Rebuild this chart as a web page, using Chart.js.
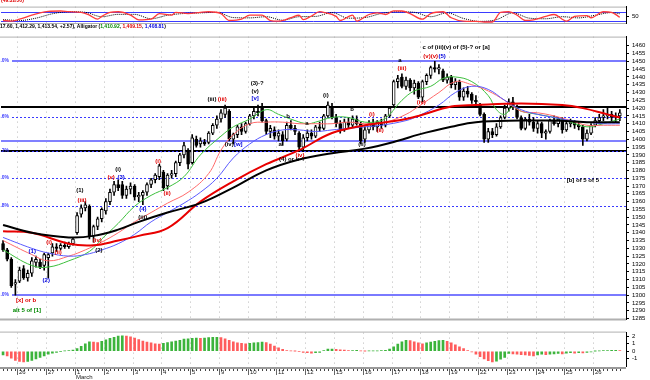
<!DOCTYPE html>
<html><head><meta charset="utf-8">
<script src="https://cdn.jsdelivr.net/npm/chart.js@4.4.1/dist/chart.umd.min.js"></script>
<style>
html,body{margin:0;padding:0;background:#fff;width:650px;height:380px;overflow:hidden;}
body{position:relative;}
canvas{position:absolute;left:0;}
</style></head><body>
<canvas id="stoch" width="650" height="30" style="top:0px"></canvas>
<canvas id="main" width="650" height="296" style="top:30px"></canvas>
<canvas id="ao" width="650" height="54" style="top:326px"></canvas>
<script>
// ---------- DATA ----------
const barOpen = [1333,1329,1323,1307,1309,1317,1311,1314,1321,1321,
 1319,1324,1327,1331,1330,1332,1331,1333,1340,1352,
 1356,1357,1338,1344,1349,1354,1360,1366,1371,1371,
 1364,1368,1370,1363,1364,1366,1371,1374,1376,1379,
 1370,1377,1378,1385,1390,1393,1385,1400,1397,1398,
 1398,1404,1409,1413,1416,1418,1400,1403,1408,1405,
 1410,1415,1418,1421,1412,1405,1406,1402,1403,1400,
 1409,1407,1404,1395,1401,1404,1402,1408,1407,1415,
 1421,1414,1410,1406,1411,1409,1413,1410,1400,1406,
 1410,1408,1410,1409,1415,1422,1437,1440,1434,1438,
 1433,1436,1427,1437,1441,1446,1445,1444,1438,1440,
 1435,1437,1427,1431,1429,1425,1422,1416,1400,1405,
 1403,1408,1414,1420,1424,1421,1414,1407,1413,1411,
 1407,1410,1404,1405,1412,1410,1413,1406,1410,1411,
 1409,1408,1400,1404,1409,1412,1414,1415,1416,1414,
 1415];
const barHigh = [1335,1330,1324,1310,1318,1319,1316,1324,1325,1323,
 1327,1327,1333,1333,1333,1334,1334,1337,1353,1358,
 1360,1358,1345,1350,1356,1362,1368,1373,1374,1373,
 1370,1372,1371,1366,1367,1372,1375,1378,1384,1380,
 1378,1380,1386,1391,1398,1394,1403,1402,1401,1400,
 1405,1410,1415,1419,1422,1419,1404,1409,1410,1411,
 1416,1420,1422,1423,1413,1409,1408,1406,1405,1411,
 1412,1409,1405,1403,1406,1406,1409,1411,1416,1424,
 1423,1416,1412,1413,1414,1415,1415,1411,1408,1412,
 1413,1412,1413,1416,1421,1438,1441,1442,1440,1439,
 1438,1437,1438,1442,1447,1450,1448,1445,1442,1441,
 1439,1438,1433,1434,1430,1428,1423,1417,1407,1407,
 1410,1415,1422,1426,1427,1422,1415,1414,1416,1414,
 1412,1411,1406,1413,1415,1414,1414,1412,1413,1412,
 1411,1409,1406,1410,1414,1416,1419,1421,1418,1417,
 1419];
const barLow = [1328,1322,1305,1300,1308,1310,1309,1312,1318,1317,
 1316,1311,1325,1328,1329,1330,1330,1332,1339,1350,
 1354,1336,1334,1342,1347,1352,1358,1364,1367,1362,
 1362,1365,1361,1360,1358,1364,1369,1372,1374,1367,
 1368,1375,1376,1383,1388,1381,1384,1395,1395,1396,
 1397,1403,1407,1411,1414,1399,1397,1401,1403,1404,
 1409,1413,1415,1411,1403,1401,1400,1399,1396,1399,
 1406,1403,1392,1393,1399,1400,1401,1405,1406,1414,
 1413,1408,1404,1405,1407,1408,1409,1397,1398,1404,
 1406,1405,1407,1408,1414,1421,1433,1433,1432,1431,
 1429,1426,1424,1435,1439,1443,1442,1437,1436,1433,
 1432,1425,1425,1427,1423,1422,1415,1398,1398,1401,
 1402,1407,1413,1418,1419,1413,1406,1406,1409,1405,
 1404,1401,1400,1404,1409,1408,1404,1405,1408,1407,
 1406,1396,1399,1403,1408,1410,1412,1413,1412,1411,
 1412];
const barClose = [1329,1323,1306,1308,1316,1311,1314,1322,1323,1318,
 1326,1326,1331,1330,1332,1331,1333,1336,1351,1356,
 1358,1338,1344,1349,1355,1360,1366,1371,1369,1364,
 1368,1370,1363,1364,1366,1371,1374,1377,1383,1369,
 1377,1378,1385,1390,1396,1384,1401,1396,1399,1397,
 1404,1409,1413,1417,1420,1400,1403,1408,1405,1410,
 1415,1418,1417,1412,1405,1407,1402,1404,1399,1409,
 1407,1405,1395,1401,1404,1402,1408,1407,1415,1422,
 1414,1410,1406,1411,1409,1413,1410,1399,1406,1410,
 1408,1411,1409,1415,1420,1437,1439,1434,1438,1433,
 1436,1427,1437,1441,1446,1445,1446,1438,1440,1435,
 1437,1427,1431,1429,1425,1424,1416,1400,1405,1403,
 1408,1414,1420,1424,1421,1414,1407,1413,1411,1407,
 1410,1404,1405,1412,1410,1413,1406,1410,1411,1409,
 1408,1400,1404,1409,1412,1414,1415,1416,1414,1415,
 1417];

// moving averages / alligator: [bar index, value]
const lipsGreen = [[0,1329],[7,1319],[11,1318],[16,1322],[21,1328],[24,1336],[28,1346],[32,1357],[36,1364],[40,1369],[44,1376],[48,1390],[53,1402],[56,1408],[60,1413],[64,1419],[67,1416],[71,1412],[74,1410],[76,1411],[80,1414],[84,1414],[88,1411],[92,1412],[94,1416],[97,1425],[100,1431],[104,1434],[107,1439],[110,1440],[114,1437],[118,1428],[120,1419],[122,1416],[124,1421],[126,1418],[130,1416],[134,1414],[138,1411],[142,1408],[146,1410],[150,1413]];
const teethRed = [[0,1335],[7,1326],[11,1322],[16,1325],[20,1329],[24,1334],[28,1340],[32,1347],[36,1353],[40,1359],[45,1366],[50,1378],[53,1393],[56,1403],[60,1410],[64,1411],[68,1411],[72,1410],[76,1410],[80,1410],[84,1411],[88,1410],[93,1411],[98,1416],[101,1421],[106,1430],[110,1437],[114,1435],[118,1431],[122,1425],[126,1418],[130,1417],[134,1415],[138,1412],[142,1409],[146,1409],[150,1409]];
const jawBlue = [[0,1337],[7,1330],[11,1327],[16,1325],[20,1326],[24,1329],[28,1333],[32,1339],[36,1347],[40,1353],[44,1359],[48,1366],[52,1375],[56,1388],[60,1397],[64,1403],[68,1406],[72,1406],[76,1405],[80,1406],[84,1407],[88,1408],[92,1409],[98,1412],[101,1415],[106,1422],[110,1430],[114,1434],[118,1432],[122,1425],[126,1419],[130,1416],[134,1414],[138,1412],[142,1411],[146,1410],[150,1410]];
const maRed = [[0,1341],[7,1340],[16,1333],[22,1332],[28,1335],[33,1338],[40,1343],[48,1360],[56,1373],[64,1384],[72,1393],[80,1404],[88,1409],[96,1412],[101,1415],[109,1421],[115,1422],[126,1423],[136,1422],[141,1420],[147,1416],[150,1414]];
const maBlack = [[0,1345],[7,1340],[16,1337],[22,1338],[28,1342],[33,1347],[40,1353],[48,1359],[56,1369],[64,1380],[72,1387],[80,1391],[88,1394],[96,1399],[101,1403],[109,1408],[115,1411],[126,1412],[134,1412],[142,1411],[150,1411]];

// stochastic
const stochK = [[0,24],[2,20],[4,33],[7,61],[9,76],[11,86],[14,89],[16,84],[19,80],[21,61],[23,33],[24,52],[26,80],[28,84],[31,61],[33,28],[36,33],[38,71],[41,61],[42,80],[45,71],[48,80],[50,84],[53,71],[55,24],[58,33],[60,61],[63,61],[65,24],[67,20],[70,43],[72,60],[73,30],[75,55],[77,84],[78,80],[81,52],[82,24],[85,61],[86,20],[89,65],[91,76],[93,65],[95,90],[97,89],[99,71],[102,33],[104,71],[107,84],[109,43],[112,20],[115,18],[117,14],[119,14],[121,80],[123,84],[125,61],[127,24],[129,28],[132,52],[134,65],[137,20],[139,52],[142,58],[143,43],[146,84],[148,80],[150,46]];
const stochD = [[0,30],[4,24],[8,40],[12,70],[16,84],[20,80],[24,50],[28,66],[32,66],[36,36],[40,60],[44,72],[48,76],[52,80],[56,44],[60,42],[64,50],[68,26],[72,50],[76,52],[80,78],[84,40],[88,44],[92,72],[96,84],[100,80],[104,50],[108,76],[112,38],[116,18],[120,30],[124,76],[128,40],[132,36],[136,50],[140,42],[144,60],[148,78],[150,70]];

// awesome oscillator
const aoValues = [-0.5,-0.6,-0.9,-1.2,-1.35,-1.4,-1.35,-1.2,-1.0,-0.8,
 -0.6,-0.4,-0.25,-0.15,-0.05,0.05,0.1,0.15,0.35,0.65,
 1.0,1.25,1.2,1.15,1.3,1.5,1.7,1.85,2.0,2.05,
 2.0,1.9,1.75,1.55,1.35,1.2,1.1,1.0,0.95,1.05,
 1.15,1.25,1.35,1.45,1.6,1.65,1.7,1.75,1.7,1.75,
 1.8,1.85,1.85,1.8,1.65,1.45,1.25,1.1,1.05,1.0,
 1.05,1.1,1.15,1.2,1.15,0.95,0.7,0.45,0.25,0.1,
 0.05,0.02,-0.05,-0.15,-0.2,-0.25,-0.2,-0.15,0.1,0.3,
 0.3,0.25,0.2,0.15,0.1,0.1,0.12,0.05,0.02,0.03,
 0.05,0.06,0.08,0.12,0.3,0.6,0.95,1.25,1.45,1.4,
 1.25,1.1,1.0,1.1,1.2,1.3,1.4,1.45,1.3,1.1,
 0.85,0.6,0.35,0.1,-0.1,-0.4,-0.7,-1.0,-1.25,-1.4,
 -1.3,-1.05,-0.8,-0.3,-0.35,-0.4,-0.45,-0.5,-0.55,-0.6,
 -0.5,-0.4,-0.45,-0.4,-0.35,-0.3,-0.35,-0.25,-0.2,-0.25,
 -0.2,-0.22,-0.15,-0.1,0.02,0.05,0.08,0.1,0.12,0.12,
 0.1];

// axis / labels
const dayLabels = ['26','27','1','2','3','4','5','9','10','11','12','15','16','17','18','19','22','23','24','25','26'];
const dayStart = [4,11,18,25,32,39,46,53,60,67,74,81,88,95,102,109,116,123,130,137,144];
const monthLabel = ['March', 2];
const priceTicks = [1285,1290,1295,1300,1305,1310,1315,1320,1325,1330,1335,1340,1345,1350,1355,1360,1365,1370,1375,1380,1385,1390,1395,1400,1405,1410,1415,1420,1425,1430,1435,1440,1445,1450,1455,1460];
const aoTicks = [2,1,0,-1];
const stochTicks = [50];
const stochBands = [80,20];
const fibLevels = [1450,1414.6,1392.7,1375,1357.3,1300];
const fibNames = ['0.0%','23.6%','38.2%','50.0%','61.8%','100.0%'];
const blackLevels = [1420.5,1392.7];
const blueLevels = [1399];
const headerParts = [['17.60, 1,412.29, 1,413.54, +2.57), Alligator (','k'],['1,410.92','g'],[', ','k'],['1,409.15','r'],[', ','k'],['1,408.81','b'],[')','k']];
const stochTitle = '(49.32/50)';
const waveLabels = [
 ['(1)',18.7,1367.3,'k'],['(iii)',19.2,1360.5,'r'],['(iv)',22.9,1335,'r'],['(2)',23.3,1328.7,'k'],
 ['(i)',11.2,1334,'r'],['(ii)',13.4,1327.4,'r'],['(1)',7.1,1328,'b'],['(2)',10.5,1309.3,'b'],
 ['[x] or b',5.6,1296.8,'r'],['alt 5 of [1]',5.8,1290,'g'],
 ['(i)',28,1381,'k'],['(v)',26.3,1375.4,'r'],['(3)',28.7,1375.4,'b'],
 ['(4)',34,1354.9,'b'],['(iii)',34,1350,'k'],['(i)',37.7,1386,'r'],['(ii)',39.9,1365.5,'r'],
 ['(iii)',50.8,1425.4,'k'],['(iii)',53.3,1425.4,'r'],['(iv)',55,1396.7,'k'],['[w]',57.2,1396.7,'b'],
 ['(3)-?',61.8,1436,'k'],['(v)',61.3,1431,'k'],['[v]',61.3,1426,'b'],
 ['b',69.3,1414.8,'k'],['a',67.4,1396.7,'k'],['(4) or b-?',70.3,1387.3,'k'],['(iv)',72.2,1389.8,'r'],
 ['a',73.9,1410.4,'k'],['(i)',78.5,1428.5,'k'],['b',84.9,1419,'k'],['(ii)',87.3,1396.7,'k'],
 ['(i)',89.7,1416,'r'],['(ii)',91.7,1406,'r'],['a',96.5,1450.5,'k'],['(iii)',97,1445.3,'r'],
 ['c of (iii)(v) of (5)-? or [a]',110.2,1459,'k'],['(v)(v)',104,1453.4,'r'],['(5)',106.8,1453.4,'b'],
 ['(iv)',101.7,1423.5,'r'],['[b] of 5 of 5',141,1373.6,'k']
];

// ---------- STYLE ----------
const COL = {k:'#000000', r:'#e00000', b:'#0000dd', g:'#008800'};
const FONT = '"Liberation Sans", Arial, sans-serif';
const X_MIN = -0.5, X_MAX = 151.5;
const pts = arr => arr.map(p => ({x:p[0], y:p[1]}));

function hline(ctx, x1, x2, y){ ctx.beginPath(); ctx.moveTo(x1, y); ctx.lineTo(x2, y); ctx.stroke(); }
function vline(ctx, x, y1, y2){ ctx.beginPath(); ctx.moveTo(x, y1); ctx.lineTo(x, y2); ctx.stroke(); }
function dayGrid(chart){
  const {ctx, chartArea:a, scales:{x}} = chart;
  ctx.save();
  ctx.strokeStyle = '#b8b8b8'; ctx.lineWidth = 1; ctx.setLineDash([1,4]);
  dayStart.forEach(b => { const px = Math.round(x.getPixelForValue(b - 0.5)) + 0.5; vline(ctx, px, a.top, a.bottom); });
  ctx.restore();
}
const commonX = {type:'linear', min:X_MIN, max:X_MAX, display:false, offset:false};
function rightAxis(min, max, ticks, fmt){
  return {type:'linear', position:'right', min, max,
    afterFit(s){ s.width = 24; },
    afterBuildTicks(s){ s.ticks = ticks.map(v => ({value:v})); },
    grid:{drawOnChartArea:false, drawTicks:true, tickLength:3, color:'#000'},
    border:{display:true, color:'#000', width:1},
    ticks:{font:{size:6, family:FONT}, color:'#000', padding:3, autoSkip:false, callback:fmt}
  };
}
const base = {responsive:false, animation:false, devicePixelRatio:1,
  plugins:{legend:{display:false}, tooltip:{enabled:false}}};

// ---------- STOCHASTIC ----------
new Chart(document.getElementById('stoch'), {
  type:'line',
  data:{datasets:[
    {data:pts(stochK), borderColor:'#ff3b3b', borderWidth:1.3, pointRadius:0, tension:0.35, cubicInterpolationMode:'monotone'},
    {data:pts(stochD), borderColor:'#000', borderWidth:1, borderDash:[1,1], pointRadius:0, tension:0.35, cubicInterpolationMode:'monotone'}
  ]},
  options:Object.assign({}, base, {
    layout:{padding:{left:1, right:0, top:3, bottom:7}},
    scales:{x:commonX, y:rightAxis(7, 119, stochTicks, v => String(v))}
  }),
  plugins:[{id:'stochDecor',
    beforeDatasetsDraw(chart){
      const {ctx, chartArea:a, scales:{y}} = chart;
      dayGrid(chart);
      ctx.save();
      ctx.strokeStyle = '#b0b0b0'; ctx.lineWidth = 1;
      hline(ctx, 0, a.right, a.top + 0.5); hline(ctx, 0, a.right, a.bottom + 0.5);
      ctx.strokeStyle = '#3b3bff';
      stochBands.forEach(v => hline(ctx, a.left, a.right, Math.round(y.getPixelForValue(v)) + 0.5));
      ctx.restore();
    },
    afterDraw(chart){
      const {ctx} = chart;
      ctx.save();
      ctx.font = 'bold 5px ' + FONT; ctx.textBaseline = 'middle';
      ctx.fillStyle = COL.r; ctx.fillText(stochTitle, 1, 1);
      let xx = 0;
      headerParts.forEach(([t, c]) => { ctx.fillStyle = COL[c]; ctx.fillText(t, xx, 27); xx += ctx.measureText(t).width; });
      ctx.restore();
    }
  }]
});

// ---------- MAIN ----------
new Chart(document.getElementById('main'), {
  type:'bar',
  data:{datasets:[
    {type:'line', data:pts(maBlack), borderColor:'#000', borderWidth:2, pointRadius:0, tension:0.4, order:0},
    {type:'line', data:pts(maRed), borderColor:'#e80000', borderWidth:2, pointRadius:0, tension:0.4, order:0},
    {type:'line', data:pts(jawBlue), borderColor:'#5a5aff', borderWidth:1, pointRadius:0, tension:0.4, order:0},
    {type:'line', data:pts(teethRed), borderColor:'#ff6a6a', borderWidth:1, pointRadius:0, tension:0.4, order:0},
    {type:'line', data:pts(lipsGreen), borderColor:'#3cbf3c', borderWidth:1, pointRadius:0, tension:0.4, order:0},
    {type:'bar', data:barOpen.map((o,i) => ({x:i, y:[o, barClose[i]]})),
      backgroundColor:barOpen.map((o,i) => barClose[i] >= o ? '#ffffff' : '#000000'),
      borderColor:'#000', borderWidth:1, borderSkipped:false, barThickness:3, grouped:false, order:1},
    {type:'bar', data:barLow.map((l,i) => ({x:i, y:[l, barHigh[i]]})),
      backgroundColor:'#000', borderWidth:0, barThickness:1, grouped:false, order:2}
  ]},
  options:Object.assign({}, base, {
    layout:{padding:{left:1, right:0, top:2, bottom:3}},
    scales:{x:commonX, y:rightAxis(1284.4, 1465.9, priceTicks, v => String(v))}
  }),
  plugins:[{id:'mainDecor',
    beforeDatasetsDraw(chart){
      const {ctx, chartArea:a, scales:{y}} = chart;
      dayGrid(chart);
      ctx.save();
      ctx.strokeStyle = '#b0b0b0'; ctx.lineWidth = 1;
      hline(ctx, 0, a.right, a.top + 0.5);
      ctx.lineWidth = 2; hline(ctx, 0, a.right, a.bottom);
      ctx.strokeStyle = '#000'; ctx.lineWidth = 2;
      blackLevels.forEach(v => hline(ctx, a.left, a.right, Math.round(y.getPixelForValue(v))));
      ctx.strokeStyle = '#8080ff'; ctx.lineWidth = 2;
      blueLevels.forEach(v => hline(ctx, a.left, a.right, Math.round(y.getPixelForValue(v))));
      fibLevels.forEach((v, k) => {
        const py = Math.round(y.getPixelForValue(v));
        const solid = (k === 0 || k === fibLevels.length - 1);
        ctx.strokeStyle = solid ? '#7a7aff' : '#3a3aff';
        ctx.lineWidth = solid ? 2 : 1;
        ctx.setLineDash(solid ? [] : [2,2]);
        hline(ctx, 12, a.right, solid ? py : py + 0.5);
        ctx.setLineDash([]);
        ctx.fillStyle = '#3a3aff'; ctx.font = 'bold 5px ' + FONT;
        ctx.textAlign = 'right'; ctx.textBaseline = 'middle';
        ctx.fillText(fibNames[k], 9, py);
      });
      ctx.restore();
    },
    afterDatasetsDraw(chart){
      const {ctx, scales:{x, y}} = chart;
      ctx.save();
      ctx.font = 'bold 6px ' + FONT; ctx.textAlign = 'center'; ctx.textBaseline = 'middle';
      waveLabels.forEach(([t, i, p, c]) => { ctx.fillStyle = COL[c]; ctx.fillText(t, x.getPixelForValue(i), y.getPixelForValue(p)); });
      ctx.restore();
    }
  }]
});

// ---------- AWESOME OSCILLATOR + TIME AXIS ----------
new Chart(document.getElementById('ao'), {
  type:'bar',
  data:{datasets:[
    {data:aoValues.map((v,i) => ({x:i, y:v})),
     backgroundColor:aoValues.map((v,i) => (i > 0 && v < aoValues[i-1]) ? '#ff5c5c' : '#3cb43c'),
     borderWidth:0, barThickness:2}
  ]},
  options:Object.assign({}, base, {
    layout:{padding:{left:1, right:0, top:6, bottom:14}},
    scales:{x:commonX, y:rightAxis(-1.95, 2.47, aoTicks, v => String(v))}
  }),
  plugins:[{id:'aoDecor',
    beforeDatasetsDraw(chart){
      const {ctx, chartArea:a} = chart;
      dayGrid(chart);
      ctx.save(); ctx.strokeStyle = '#b0b0b0'; ctx.lineWidth = 1;
      hline(ctx, 0, a.right, a.top - 0.5);
      ctx.restore();
    },
    afterDraw(chart){
      const {ctx, chartArea:a, scales:{x}} = chart;
      const yb = a.bottom + 1;
      ctx.save();
      ctx.fillStyle = '#9a9a9a'; ctx.fillRect(0, yb, a.right, 2);
      ctx.fillStyle = '#444';
      for (let i = 0; i < barOpen.length; i++) {
        const px = Math.round(x.getPixelForValue(i));
        ctx.fillRect(px, yb + 2, 1, 2);
      }
      ctx.font = '6px ' + FONT; ctx.textBaseline = 'middle'; ctx.textAlign = 'left';
      dayStart.forEach((b, k) => {
        const px = Math.round(x.getPixelForValue(b - 0.5));
        ctx.fillStyle = '#666'; ctx.fillRect(px, yb + 2, 1, 6);
        ctx.fillStyle = '#222'; ctx.fillText(dayLabels[k], px + 2, yb + 5);
      });
      const mx = Math.round(x.getPixelForValue(dayStart[monthLabel[1]] - 0.5));
      ctx.fillText(monthLabel[0], mx + 1, yb + 10);
      ctx.restore();
    }
  }]
});
</script>
</body></html>
